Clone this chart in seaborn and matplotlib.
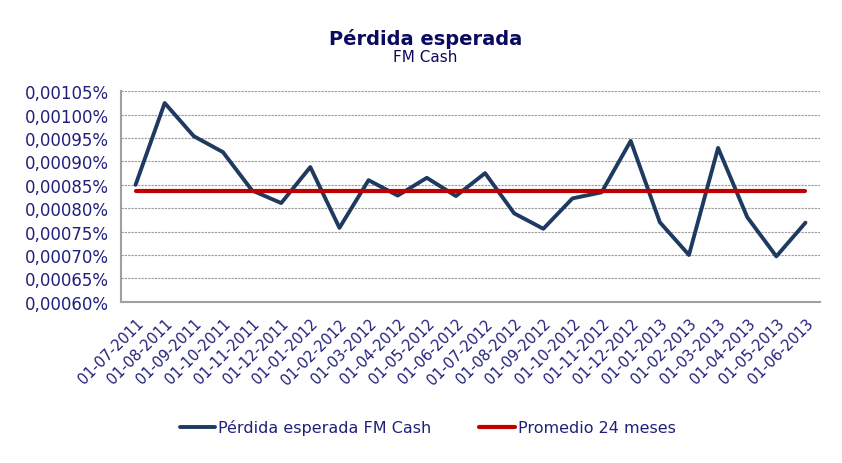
import matplotlib
matplotlib.use("Agg")
import matplotlib.pyplot as plt
import seaborn as sns
import pandas as pd
from matplotlib.ticker import FuncFormatter, FixedLocator

# datos (valores en %)
fechas = ["01-07-2011", "01-08-2011", "01-09-2011", "01-10-2011", "01-11-2011", "01-12-2011",
          "01-01-2012", "01-02-2012", "01-03-2012", "01-04-2012", "01-05-2012", "01-06-2012",
          "01-07-2012", "01-08-2012", "01-09-2012", "01-10-2012", "01-11-2012", "01-12-2012",
          "01-01-2013", "01-02-2013", "01-03-2013", "01-04-2013", "01-05-2013", "01-06-2013"]
perdida = [0.000850, 0.001025, 0.000954, 0.000920, 0.000838, 0.000811,
           0.000888, 0.000758, 0.000860, 0.000827, 0.000865, 0.000826,
           0.000875, 0.000789, 0.000756, 0.000821, 0.000834, 0.000944,
           0.000770, 0.000700, 0.000929, 0.000781, 0.000697, 0.000769]
promedio = 0.000837

navy = "#1F3A60"
red = "#C00000"
text_col = "#20207A"

sns.set_style("white")
plt.rcParams["font.family"] = ["DejaVu Sans"]

df = pd.DataFrame({"fecha": fechas, "perdida": perdida})
df["promedio"] = promedio

fig = plt.figure(figsize=(8.42, 4.64), dpi=100)
ax = fig.add_axes([0.1437, 0.3476, 0.8302, 0.4534])

sns.lineplot(data=df, x="fecha", y="perdida", ax=ax, color=navy, linewidth=2.8,
             label="Pérdida esperada FM Cash", sort=False)
sns.lineplot(data=df, x="fecha", y="promedio", ax=ax, color=red, linewidth=3.0,
             label="Promedio 24 meses", sort=False)

ax.set_xlim(-0.5, len(fechas) - 0.5)
ax.set_ylim(0.00060, 0.00105)
ax.set_yticks([0.00060 + i * 0.00005 for i in range(10)])
ax.yaxis.set_major_formatter(FuncFormatter(lambda v, p: f"{v:.5f}%".replace(".", ",")))
ax.yaxis.grid(True, color="#999999", linestyle=(0, (2, 1)), linewidth=0.8)
ax.set_axisbelow(True)

ax.set_xticks(range(len(fechas)))
ax.set_xticklabels(fechas, rotation=45, ha="right", rotation_mode="anchor")
ax.xaxis.set_minor_locator(FixedLocator([i - 0.5 for i in range(len(fechas) + 1)]))
ax.tick_params(axis="x", which="major", length=0, pad=10, labelsize=10.5, labelcolor=text_col)
ax.tick_params(axis="x", which="minor", length=5, color="#A0A0A0", width=1)
ax.tick_params(axis="y", length=5, color="#A0A0A0", width=1, labelsize=12, labelcolor=text_col)

ax.set_xlabel("")
ax.set_ylabel("")
for s in ["top", "right"]:
    ax.spines[s].set_visible(False)
for s in ["left", "bottom"]:
    ax.spines[s].set_color("#A0A0A0")
    ax.spines[s].set_linewidth(1.5)

fig.text(0.505, 0.917, "Pérdida esperada", ha="center", va="center", fontsize=14,
         fontweight="bold", color="#0A0A60")
fig.text(0.505, 0.876, "FM Cash", ha="center", va="center", fontsize=11, color="#0A0A60")

ax.legend(loc="center", ncol=2, frameon=False, fontsize=11.5, handlelength=2.2,
          handletextpad=0.2, columnspacing=3.0, labelcolor=text_col)
ax.legend_.set_bbox_to_anchor((0.508, 0.077), transform=fig.transFigure)

fig.savefig("out.png", dpi=100)
